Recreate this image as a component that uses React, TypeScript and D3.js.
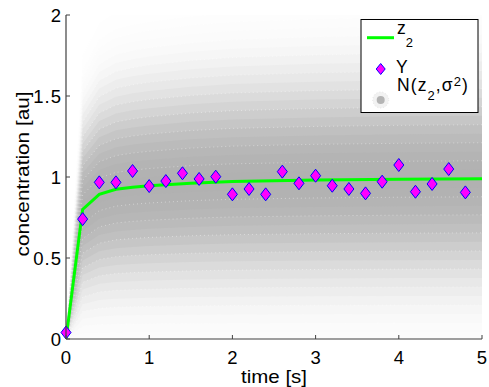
import React from 'react';
import * as d3 from 'd3';

// ---- data ----
const tZ = [0, 0.2, 0.4, 0.6, 0.8, 1, 1.5, 2, 3, 4, 5];
const z2 = [0, 0.8, 0.893, 0.924, 0.937, 0.946, 0.962, 0.972, 0.981, 0.986, 0.989];
const tY = [0, 0.2, 0.4, 0.6, 0.8, 1, 1.2, 1.4, 1.6, 1.8, 2, 2.2, 2.4, 2.6, 2.8, 3, 3.2, 3.4, 3.6, 3.8, 4, 4.2, 4.4, 4.6, 4.8];
const Y = [0.04, 0.74, 0.967, 0.967, 1.037, 0.944, 0.975, 1.023, 0.988, 1.002, 0.893, 0.926, 0.893, 1.033, 0.961, 1.008, 0.946, 0.926, 0.899, 0.971, 1.074, 0.909, 0.957, 1.049, 0.905];
const xTicks = [0, 1, 2, 3, 4, 5];
const yTicks = [0, 0.5, 1, 1.5, 2];
const yTickLabels = ['0', '0.5', '1', '1.5', '2'];
const sigmaRel = 0.45; // relative std of N(z2, sigma^2)
const bandLevels = d3.range(3.0, 0, -0.125); // in units of sigma

const W = 489, H = 387;
const L = 66, R = 482, T = 15, B = 339;
const FONT = '"Liberation Sans", Arial, Helvetica, sans-serif';

export default function App() {
  const x = d3.scaleLinear().domain([0, 5]).range([L, R]);
  const y = d3.scaleLinear().domain([0, 2]).range([B, T]);
  const pts = tZ.map((t, i) => ({ t, z: z2[i] }));

  const gray = (k: number) => {
    const v = Math.exp(-0.5 * Math.pow(k / 1.05, 2.5));
    const g = Math.round(255 - 78 * v);
    return `rgb(${g},${g},${g})`;
  };

  const area = (k: number) =>
    d3.area<{ t: number; z: number }>()
      .x(d => x(d.t))
      .y0(d => y(d.z * (1 - k * sigmaRel)))
      .y1(d => y(d.z * (1 + k * sigmaRel)))(pts) || '';
  const edge = (k: number, s: number) =>
    d3.line<{ t: number; z: number }>()
      .x(d => x(d.t))
      .y(d => y(d.z * (1 + s * k * sigmaRel)))(pts) || '';
  const zLine = d3.line<{ t: number; z: number }>().x(d => x(d.t)).y(d => y(d.z))(pts) || '';

  const diamond = (cx: number, cy: number, hw: number, hh: number) =>
    `M${cx},${cy - hh}L${cx + hw},${cy}L${cx},${cy + hh}L${cx - hw},${cy}Z`;

  return (
    <svg width={W} height={H} style={{ position: 'absolute', left: 0, top: 0, background: '#fff' }} fontFamily={FONT}>
      <defs>
        <clipPath id="plot">
          <rect x={L} y={T} width={R - L} height={B - T} />
        </clipPath>
      </defs>
      <g clipPath="url(#plot)">
        {bandLevels.map((k, i) => (
          <path key={'b' + i} d={area(k)} fill={gray(k)} stroke="none" />
        ))}
        {bandLevels.filter((_, i) => i % 2 === 0).map((k, i) => (
          <g key={'e' + i}>
            <path d={edge(k, 1)} fill="none" stroke="#fff" strokeOpacity={0.4} strokeWidth={1} strokeDasharray="1 3" />
            <path d={edge(k, -1)} fill="none" stroke="#fff" strokeOpacity={0.4} strokeWidth={1} strokeDasharray="1 3" />
          </g>
        ))}
        <path d={zLine} fill="none" stroke="#00ff00" strokeWidth={3} />
      </g>
      {tY.map((t, i) => (
        <path key={'m' + i} d={diamond(x(t), y(Y[i]), 5, 6.5)} fill="#ff00ff" stroke="#0000ff" strokeWidth={1} />
      ))}
      {/* axes */}
      <line x1={L} x2={L} y1={T} y2={B} stroke="#404040" strokeWidth={1.2} />
      <line x1={L} x2={R} y1={B} y2={B} stroke="#404040" strokeWidth={1.2} />
      {xTicks.map(t => (
        <g key={'xt' + t}>
          <line x1={x(t)} x2={x(t)} y1={B} y2={B - 4} stroke="#404040" />
          <text x={x(t) + 0.5} y={363.5} textAnchor="middle" fontSize={18.5} letterSpacing={1} fill="#000">{t}</text>
        </g>
      ))}
      {yTicks.map((v, i) => (
        <g key={'yt' + i}>
          <line x1={L} x2={L + 4} y1={y(v)} y2={y(v)} stroke="#404040" />
          <text x={62} y={y(v) + 6.5} textAnchor="end" fontSize={18.5} letterSpacing={1} fill="#000">{yTickLabels[i]}</text>
        </g>
      ))}
      <text x={274} y={383} textAnchor="middle" fontSize={19} textLength={66} lengthAdjust="spacingAndGlyphs" fill="#000">time [s]</text>
      <text transform="translate(29,174) rotate(-90)" textAnchor="middle" fontSize={19} textLength={165} lengthAdjust="spacingAndGlyphs" fill="#000">concentration [au]</text>
      {/* legend */}
      <rect x={361} y={19.5} width={117} height={93} fill="#fff" stroke="#000" strokeWidth={1} />
      <line x1={367} x2={394} y1={37.7} y2={37.7} stroke="#00ff00" strokeWidth={3} />
      <text x={397} y={34.3} fontSize={17.5} fill="#000">z<tspan fontSize={13} dy={12.4}>2</tspan></text>
      <path d={diamond(380.7, 69, 4.5, 5.5)} fill="#ff00ff" stroke="#0000ff" strokeWidth={1} />
      <text x={396} y={73} fontSize={17.5} fill="#000">Y</text>
      <circle cx={380.7} cy={100} r={8} fill="#f2f2f2" stroke="#e6e6e6" strokeDasharray="1 2" />
      <circle cx={380.7} cy={100} r={4} fill="#b4b4b4" />
      <text x={397} y={91} fontSize={17.5} fill="#000" letterSpacing={1.1}>
        N(z<tspan fontSize={13} dy={8.7}>2</tspan><tspan dy={-8.7}>,σ</tspan><tspan fontSize={13} dy={-5.5}>2</tspan><tspan dy={5.5}>)</tspan>
      </text>
    </svg>
  );
}
